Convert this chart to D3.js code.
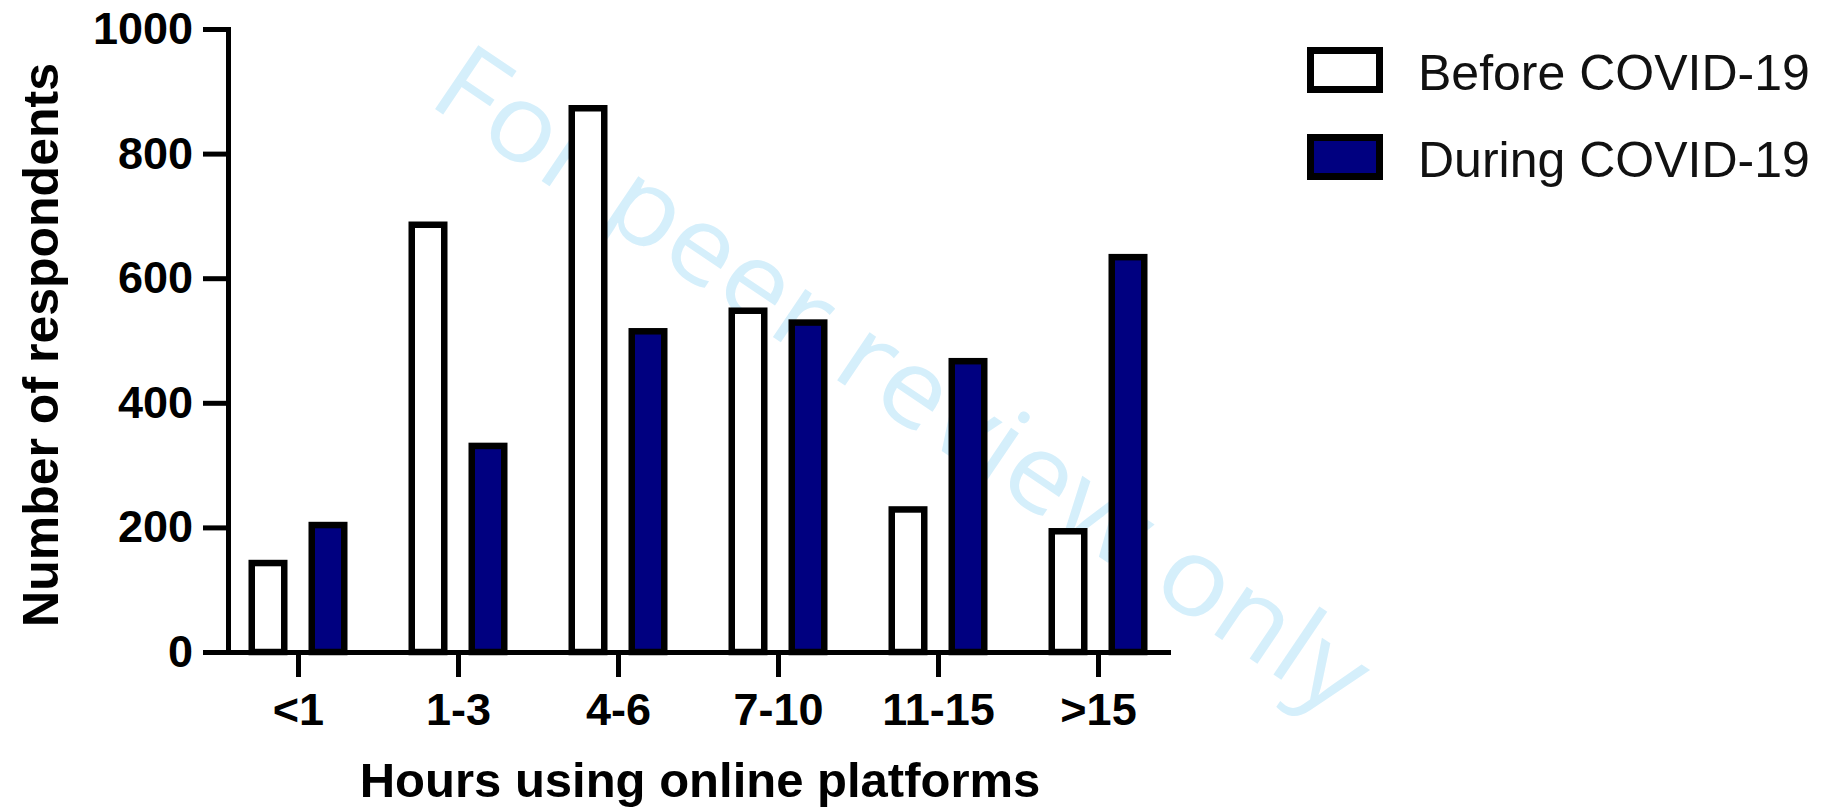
<!DOCTYPE html>
<html>
<head>
<meta charset="utf-8">
<script src="https://cdn.jsdelivr.net/npm/d3@7/dist/d3.min.js"></script>
<style>
  html, body { margin: 0; padding: 0; background: #ffffff; }
  svg { display: block; }
</style>
</head>
<body>
<svg id="chart" width="1829" height="809"></svg>
<script>
// Survey data: respondents by daily hours spent on online platforms
const categories = ["<1", "1-3", "4-6", "7-10", "11-15", ">15"];
const beforeCovid = [148, 691, 878, 553, 234, 199];
const duringCovid = [209, 336, 520, 534, 472, 639];
const seriesNames = ["Before COVID-19", "During COVID-19"];
const seriesFills = ["#ffffff", "#000080"];
const yTicks = [0, 200, 400, 600, 800, 1000];

const svg = d3.select("#chart");

const plot = { left: 228, right: 1168, top: 29, bottom: 652 };
const boldFont = "'Liberation Sans', Arial, Helvetica, sans-serif";

// Watermark (drawn beneath the chart)
svg.append("text")
  .attr("transform", "translate(905,376) rotate(34)")
  .attr("text-anchor", "middle")
  .attr("dominant-baseline", "central")
  .attr("font-family", "'Open Sans', 'Noto Sans', sans-serif")
  .attr("font-size", 108)
  .attr("fill", "#d5effb")
  .attr("textLength", 1100)
  .attr("lengthAdjust", "spacingAndGlyphs")
  .text("For peer review only");

const y = d3.scaleLinear().domain([0, 1000]).range([plot.bottom, plot.top]);
const x = d3.scalePoint().domain(categories).range([plot.left, plot.right]).padding(0.4375);

// Bars
const barOuter = 39, barOffset = 30, sw = 6.5;
const series = [beforeCovid, duringCovid];
series.forEach((vals, s) => {
  const off = s === 0 ? -barOffset : barOffset;
  svg.append("g").selectAll("rect")
    .data(categories.map((c, i) => ({ c, v: vals[i] })))
    .join("rect")
    .attr("x", d => x(d.c) + off - barOuter / 2 + sw / 2)
    .attr("width", barOuter - sw)
    .attr("y", d => y(d.v) + sw / 2)
    .attr("height", d => y(0) - y(d.v) - sw / 2)
    .attr("fill", seriesFills[s])
    .attr("stroke", "#000")
    .attr("stroke-width", sw);
});

// Y axis
const yAxis = svg.append("g")
  .attr("transform", `translate(${plot.left},0)`)
  .call(d3.axisLeft(y).tickValues(yTicks).tickFormat(d3.format("d"))
    .tickSize(25).tickSizeOuter(0).tickPadding(10));
yAxis.select(".domain").attr("stroke-width", 5).attr("stroke-linecap", "square");
yAxis.selectAll(".tick line").attr("stroke-width", 5);
yAxis.selectAll(".tick text")
  .attr("font-family", boldFont).attr("font-weight", "bold")
  .attr("font-size", 45).attr("fill", "#000");

// X axis
const xAxis = svg.append("g")
  .attr("transform", `translate(0,${plot.bottom})`)
  .call(d3.axisBottom(x).tickSize(25).tickSizeOuter(0).tickPadding(16));
xAxis.select(".domain").attr("stroke-width", 5).attr("stroke-linecap", "square");
xAxis.selectAll(".tick line").attr("stroke-width", 5);
xAxis.selectAll(".tick text")
  .attr("font-family", boldFont).attr("font-weight", "bold")
  .attr("font-size", 45).attr("fill", "#000");

// Axis titles
svg.append("text")
  .attr("x", 700).attr("y", 797)
  .attr("text-anchor", "middle")
  .attr("font-family", boldFont).attr("font-weight", "bold").attr("font-size", 49)
  .text("Hours using online platforms");

svg.append("text")
  .attr("transform", "translate(58,345) rotate(-90)")
  .attr("text-anchor", "middle")
  .attr("font-family", boldFont).attr("font-weight", "bold").attr("font-size", 50)
  .text("Number of respondents");

// Legend
const legend = svg.append("g").attr("transform", "translate(1307,47)");
seriesNames.forEach((name, i) => {
  const g = legend.append("g").attr("transform", `translate(0,${i * 87})`);
  g.append("rect")
    .attr("x", 3.5).attr("y", 3.5)
    .attr("width", 69).attr("height", 39)
    .attr("fill", seriesFills[i])
    .attr("stroke", "#000").attr("stroke-width", 7);
  g.append("text")
    .attr("x", 111).attr("y", 43)
    .attr("font-family", "'Liberation Sans', Arial, Helvetica, sans-serif")
    .attr("font-size", 50).attr("fill", "#111")
    .text(name);
});
</script>
</body>
</html>
